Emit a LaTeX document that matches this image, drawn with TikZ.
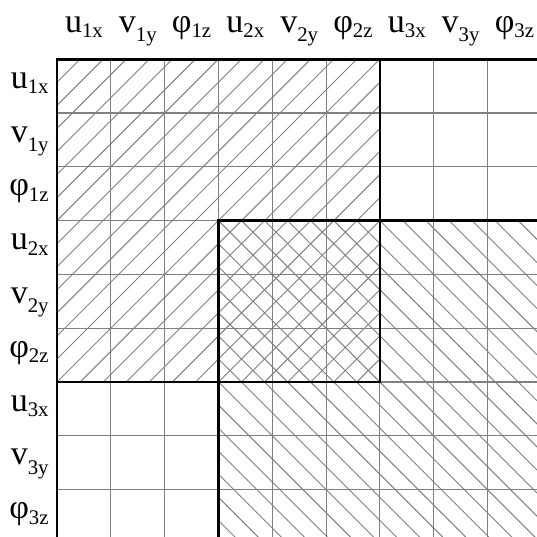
\documentclass[tikz,border=0pt]{standalone}
\usepackage{fontspec}
\setmainfont{Liberation Serif}
\tikzset{
  cellgrid/.style={gray, line width=0.6pt},
  hatch/.style={gray, line width=0.5pt},
  blockframe/.style={black, line width=1.4pt},
  lbl/.style={font=\fontsize{18}{22}\selectfont, inner sep=0pt}
}
\newcommand{\dof}[3]{#1\raisebox{-#3}{\fontsize{11}{12}\selectfont #2}}
\begin{document}
\begin{tikzpicture}
  \useasboundingbox (-1.06,1.1) rectangle (8.92,-8.88);
  \clip (-1.06,1.1) rectangle (8.92,-8.88);
  % block of element 1 (/)
  \begin{scope}
    \clip (0,0) rectangle (6,-6);
    \foreach \k in {0,...,28}
      \draw[hatch] ({\k*3/7-6},-6) -- ({\k*3/7},0);
  \end{scope}
  % block of element 2 (\)
  \begin{scope}
    \clip (3,-3) rectangle (9,-9);
    \foreach \k in {-14,...,14}
      \draw[hatch] ({\k*3/7+3},-3) -- ({\k*3/7+9},-9);
  \end{scope}
  % cells
  \foreach \i in {1,...,8} {
    \draw[cellgrid] (\i,0) -- (\i,-9);
    \draw[cellgrid] (0,-\i) -- (9,-\i);
  }
  \draw[blockframe] (0,0) rectangle (9,-9);
  \draw[blockframe] (0,0) rectangle (6,-6);
  \draw[blockframe] (3,-3) rectangle (9,-9);
  % labels
  \foreach \s/\sub/\dn [count=\i] in {u/1x/3pt, v/1y/5pt, φ/1z/3pt,
      u/2x/3pt, v/2y/5pt, φ/2z/3pt, u/3x/3pt, v/3y/5pt, φ/3z/3pt} {
    \node[lbl, anchor=base] (col\i) at (\i-0.5,0.5) {\dof{\s}{\sub}{\dn}};
    \node[lbl, anchor=base east] (row\i) at (-0.15,-\i+0.46) {\dof{\s}{\sub}{\dn}};
  }
\end{tikzpicture}
\end{document}
